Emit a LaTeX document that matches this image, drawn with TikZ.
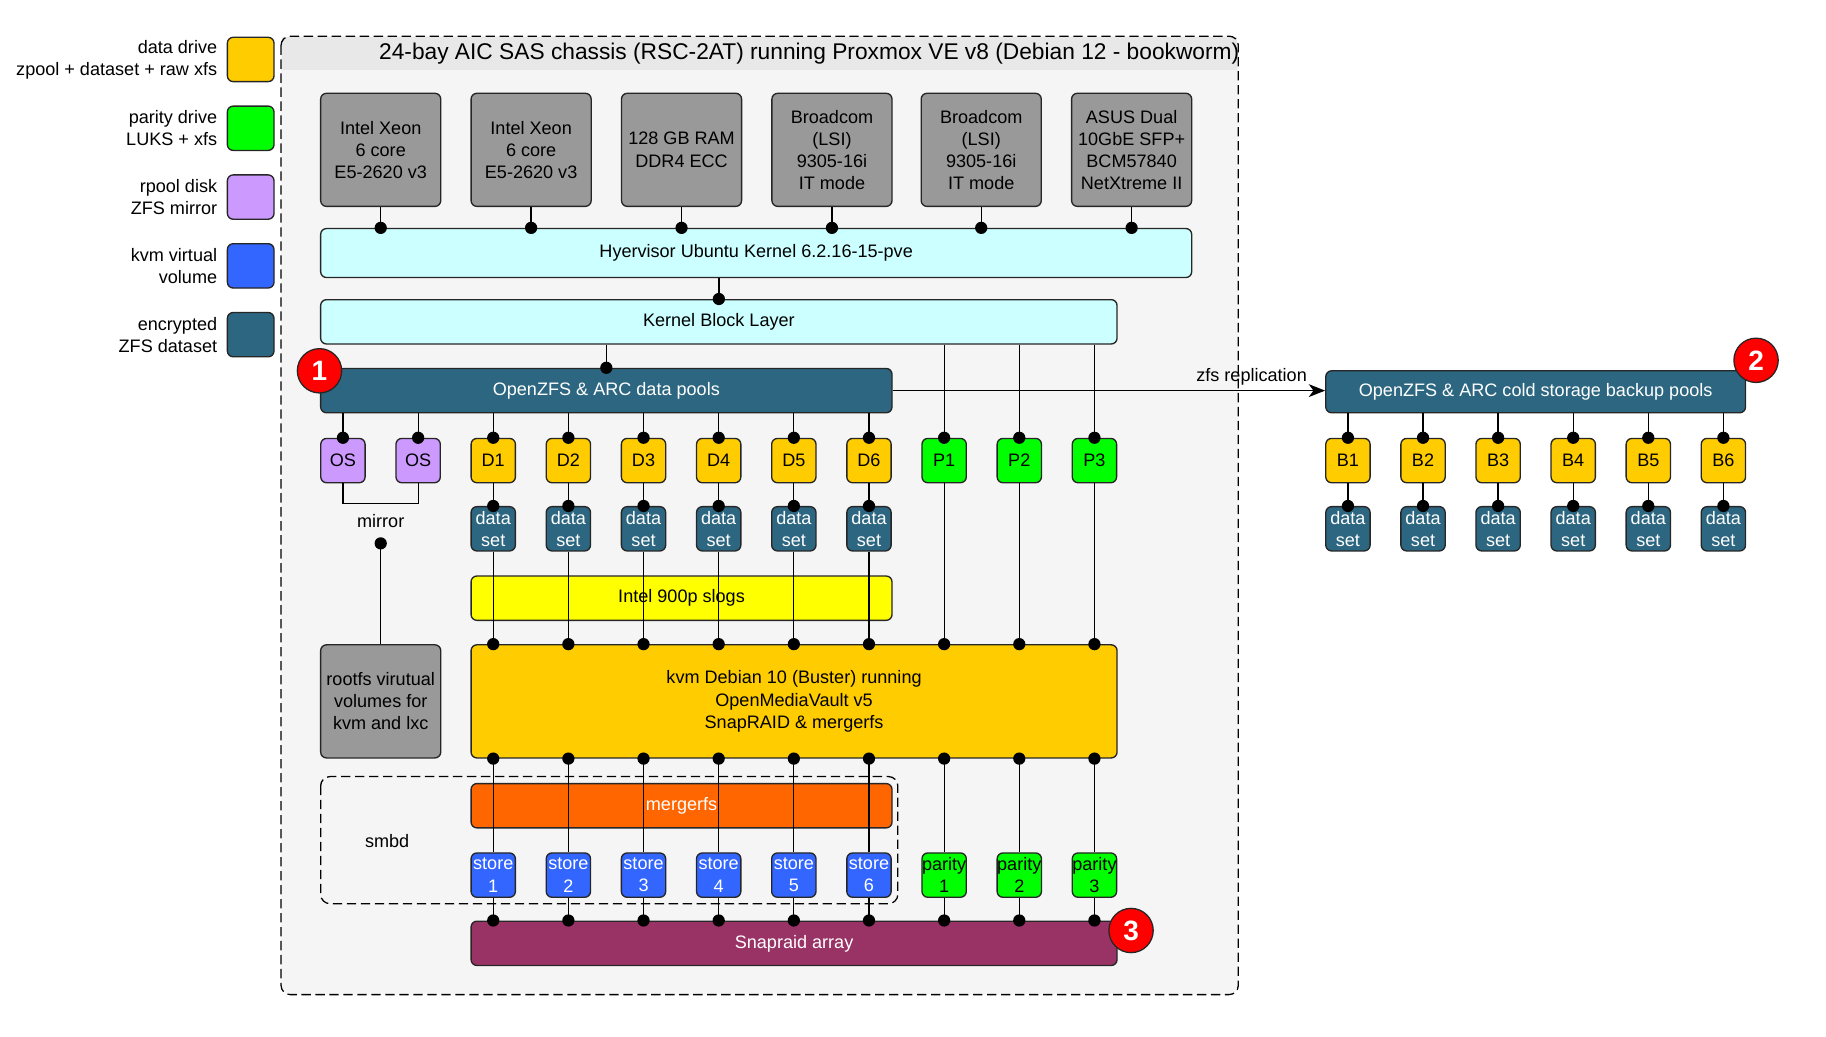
\documentclass[tikz,border=0pt]{standalone}
\usepackage{fontspec}
\setmainfont{Liberation Sans}
\usetikzlibrary{positioning,arrows.meta}
\definecolor{cDisque}{HTML}{FFCC00}
\definecolor{cParite}{HTML}{00FF00}
\definecolor{cRpool}{HTML}{CC99FF}
\definecolor{cVolume}{HTML}{3366FF}
\definecolor{cDataset}{HTML}{2C6680}
\definecolor{cMateriel}{HTML}{999999}
\definecolor{cNoyau}{HTML}{CCFFFF}
\definecolor{cSlog}{HTML}{FFFF00}
\definecolor{cMerger}{HTML}{FF6600}
\definecolor{cSnap}{HTML}{993366}
\definecolor{cFond}{HTML}{F5F5F5}
\definecolor{cBandeau}{HTML}{E8E8E8}
\begin{document}
\begin{tikzpicture}[x=1pt,y=-1pt,font=\fontsize{15.5}{19}\selectfont]
		\tikzstyle{boite}=[draw=black!85,line width=1.15pt,rounded corners=5pt,inner sep=0pt,align=center]
		\tikzstyle{materiel}=[boite,fill=cMateriel,minimum width=103pt,minimum height=97pt]
		\tikzstyle{disque}=[boite,minimum width=38pt,minimum height=38pt]
		\tikzstyle{bandeau}=[boite,minimum height=38pt]
		\tikzstyle{legende}=[boite,minimum width=40pt,minimum height=38pt]
		\tikzstyle{texte legende}=[align=right,inner sep=0pt]
		\tikzstyle{fil}=[line width=1.1pt]
		\tikzstyle{fleche}=[->,>={Stealth[length=14pt,width=11pt,inset=4pt]},line width=1.1pt]
		\tikzstyle{jonction}=[circle,fill=black,inner sep=0pt,minimum size=10.5pt]
		\tikzstyle{pastille}=[circle,draw=black!85,line width=1.1pt,fill=red,text=white,minimum size=38pt,inner sep=0pt,font=\fontsize{24}{24}\selectfont\bfseries]
		\def\PasColonne{64.45}
		\def\XColonne{423}
		\def\LigneMateriel{128.5}
		\def\LigneDisques{395}
		\def\LigneDatasets{453.5}
		\def\LigneStores{750.5}
		\def\XBackup{1156}
		\useasboundingbox (0,0) rectangle (1566,889);
		% chassis
		\fill[cFond,rounded corners=8pt] (241,31) rectangle (1062,853);
		\fill[cBandeau] (242,32) rectangle (1061,60);
		\draw[line width=1.1pt,dash pattern=on 8pt off 4pt,rounded corners=8pt] (241,31) rectangle (1062,853);
		\node (titre) at (694,46) {\fontsize{19.5}{22}\selectfont 24-bay AIC SAS chassis (RSC-2AT) running Proxmox VE v8 (Debian 12 - bookworm)};
		\draw[line width=1.1pt,dash pattern=on 8pt off 4pt,rounded corners=8pt] (275,666) rectangle (770,775);
		\node (smbd) at (332,721) {smbd};
		% legende
		\node[legende,fill=cDisque] (legDisque) at (215,51) {};
		\node[texte legende,left=8pt of legDisque] {data drive\\zpool + dataset + raw xfs};
		\node[legende,fill=cParite] (legParite) at (215,110) {};
		\node[texte legende,left=8pt of legParite] {parity drive\\LUKS + xfs};
		\node[legende,fill=cRpool] (legRpool) at (215,169) {};
		\node[texte legende,left=8pt of legRpool] {rpool disk\\ZFS mirror};
		\node[legende,fill=cVolume] (legVolume) at (215,228) {};
		\node[texte legende,left=8pt of legVolume] {kvm virtual\\volume};
		\node[legende,fill=cDataset] (legDataset) at (215,287) {};
		\node[texte legende,left=8pt of legDataset] {encrypted\\ZFS dataset};
		% materiel
		\node[materiel] (xeonA) at (326.5,\LigneMateriel) {Intel Xeon\\6 core\\E5-2620 v3};
		\node[materiel] (xeonB) at (455.5,\LigneMateriel) {Intel Xeon\\6 core\\E5-2620 v3};
		\node[materiel] (ram) at (584.5,\LigneMateriel) {128 GB RAM\\DDR4 ECC};
		\node[materiel] (lsiA) at (713.5,\LigneMateriel) {Broadcom\\(LSI)\\9305-16i\\IT mode};
		\node[materiel] (lsiB) at (841.5,\LigneMateriel) {Broadcom\\(LSI)\\9305-16i\\IT mode};
		\node[materiel] (asus) at (970.5,\LigneMateriel) {ASUS Dual\\10GbE SFP+\\BCM57840\\NetXtreme II};
		\node[boite,fill=cNoyau,minimum width=747pt,minimum height=42pt] (hyper) at (648.5,217) {Hyervisor Ubuntu Kernel 6.2.16-15-pve};
		\node[bandeau,fill=cNoyau,minimum width=683pt] (kbl) at (616.5,276) {Kernel Block Layer};
		\node[bandeau,fill=cDataset,text=white,minimum width=490pt] (zfs) at (520,335) {OpenZFS \& ARC data pools};
		\node[bandeau,fill=cDataset,text=white,minimum width=360pt,minimum height=36pt] (froid) at (1317,336) {OpenZFS \& ARC cold storage backup pools};
		% disques
		\node[disque,fill=cRpool] (osA) at (294.1,\LigneDisques) {OS};
		\node[disque,fill=cRpool] (osB) at (358.6,\LigneDisques) {OS};
		\foreach \i in {1,...,6} {
			\node[disque,fill=cDisque] (D\i) at ({\XColonne+(\i-1)*\PasColonne},\LigneDisques) {D\i};
			\node[disque,fill=cDataset,text=white] (ds\i) at ({\XColonne+(\i-1)*\PasColonne},\LigneDatasets) {data\\set};
			\node[disque,fill=cVolume,text=white] (st\i) at ({\XColonne+(\i-1)*\PasColonne},\LigneStores) {store\\\i};
		}
		\foreach \i in {1,2,3} {
			\node[disque,fill=cParite] (P\i) at ({\XColonne+(\i+5)*\PasColonne},\LigneDisques) {P\i};
			\node[disque,fill=cParite] (pa\i) at ({\XColonne+(\i+5)*\PasColonne},\LigneStores) {parity\\\i};
		}
		\foreach \j in {1,...,6} {
			\node[disque,fill=cDisque] (B\j) at ({\XBackup+(\j-1)*64.4},\LigneDisques) {B\j};
			\node[disque,fill=cDataset,text=white] (bds\j) at ({\XBackup+(\j-1)*64.4},\LigneDatasets) {data\\set};
			\draw[fil] (B\j.north |- froid.south) -- (B\j.north) node[jonction]{};
			\draw[fil] (B\j.south) -- (bds\j.north) node[jonction]{};
		}
		\node[bandeau,fill=cSlog,minimum width=361pt] (slog) at (584.5,513) {Intel 900p slogs};
		\node[boite,fill=cDisque,minimum width=554pt,minimum height=97pt] (kvm) at (681,601.5) {kvm Debian 10 (Buster) running\\OpenMediaVault v5\\SnapRAID \& mergerfs};
		\node[materiel] (rootfs) at (326.5,601.5) {rootfs virutual\\volumes for\\kvm and lxc};
		\node[bandeau,fill=cMerger,text=white,minimum width=361pt] (merger) at (584.5,691) {mergerfs};
		\node[bandeau,fill=cSnap,text=white,minimum width=554pt] (snap) at (681,809) {Snapraid array};
		% liaisons
		\foreach \h in {xeonA,xeonB,ram,lsiA,lsiB,asus}
			\draw[fil] (\h.south) -- (\h.south |- hyper.north) node[jonction]{};
		\draw[fil] (kbl.north |- hyper.south) -- (kbl.north) node[jonction]{};
		\draw[fil] (zfs.north |- kbl.south) -- (zfs.north) node[jonction]{};
		\draw[fleche] (zfs.east) -- (zfs.east -| froid.west) node[pos=0.83,above=1pt] {zfs replication};
		\draw[fil] (osA.north |- zfs.south) -- (osA.north) node[jonction]{};
		\draw[fil] (osB.north |- zfs.south) -- (osB.north) node[jonction]{};
		\coordinate (miroir) at (326.5,432);
		\draw[fil] (osA.south) |- (miroir) -| (osB.south);
		\node (txtMiroir) at (326.5,447) {mirror};
		\coordinate (racine) at (326.5,466);
		\draw[fil] (racine) node[jonction]{} -- (rootfs.north);
		\foreach \i in {1,...,6} {
			\draw[fil] (D\i.north |- zfs.south) -- (D\i.north) node[jonction]{};
			\draw[fil] (D\i.south) -- (ds\i.north) node[jonction]{};
			\draw[fil] (ds\i.south) -- (ds\i.south |- kvm.north) node[jonction]{};
			\draw[fil] (st\i.north |- kvm.south) node[jonction]{} -- (st\i.north);
			\draw[fil] (st\i.south) -- (st\i.south |- snap.north) node[jonction]{};
		}
		\foreach \i in {1,2,3} {
			\draw[fil] (P\i.north |- kbl.south) -- (P\i.north) node[jonction]{};
			\draw[fil] (P\i.south) -- (P\i.south |- kvm.north) node[jonction]{};
			\draw[fil] (pa\i.north |- kvm.south) node[jonction]{} -- (pa\i.north);
			\draw[fil] (pa\i.south) -- (pa\i.south |- snap.north) node[jonction]{};
		}
		% pastilles
		\node[pastille] (pastilleA) at (274,318) {1};
		\node[pastille] (pastilleB) at (1506,309) {2};
		\node[pastille] (pastilleC) at (970,798) {3};
	\end{tikzpicture}
\end{document}
